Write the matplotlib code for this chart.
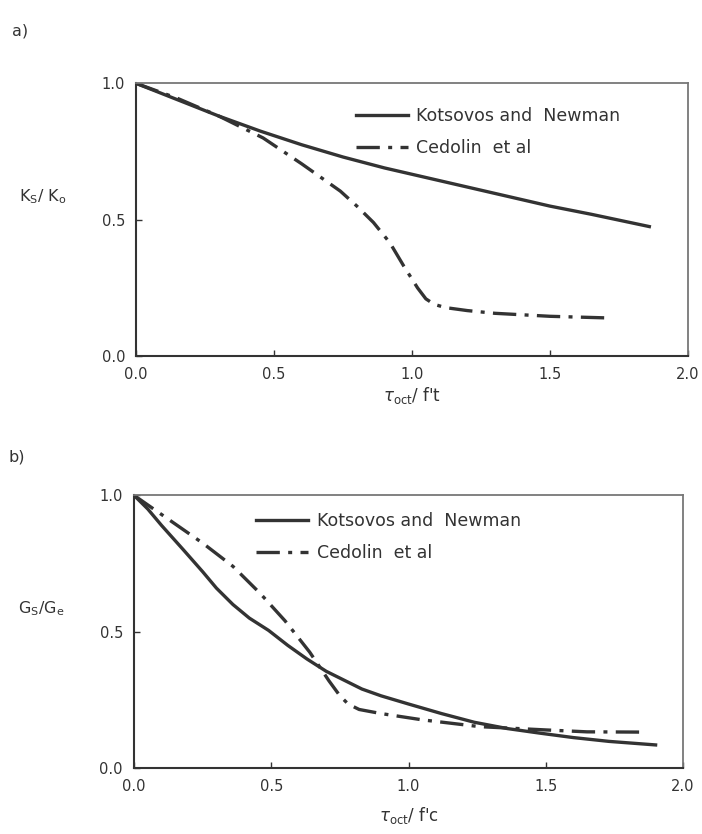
import matplotlib
matplotlib.use("Agg")
import matplotlib.pyplot as plt

# ---- data ----
ka_x = [0, 0.15, 0.3, 0.45, 0.6, 0.75, 0.9, 1.05, 1.2, 1.35, 1.5, 1.65, 1.86]
ka_y = [1.0, 0.94, 0.88, 0.825, 0.775, 0.73, 0.69, 0.655, 0.62, 0.585, 0.55, 0.52, 0.475]
ca_x = [0, 0.15, 0.3, 0.46, 0.6, 0.74, 0.8, 0.86, 0.92, 0.97, 1.02, 1.05, 1.08, 1.12, 1.2, 1.3, 1.5, 1.71]
ca_y = [1.0, 0.945, 0.88, 0.8, 0.705, 0.605, 0.55, 0.49, 0.415, 0.33, 0.25, 0.21, 0.19, 0.178, 0.167, 0.157, 0.146, 0.14]

kb_x = [0, 0.05, 0.1, 0.18, 0.25, 0.3, 0.36, 0.42, 0.49, 0.56, 0.63, 0.7, 0.77, 0.83, 0.9, 1.0, 1.12, 1.24, 1.36, 1.48, 1.6, 1.73, 1.9]
kb_y = [1.0, 0.95, 0.89, 0.8, 0.72, 0.66, 0.6, 0.55, 0.505, 0.45, 0.4, 0.355, 0.32, 0.29, 0.265, 0.235, 0.2, 0.168, 0.145, 0.128, 0.112, 0.098, 0.085]
cb_x = [0, 0.1, 0.25, 0.36, 0.46, 0.55, 0.64, 0.71, 0.75, 0.78, 0.82, 0.9, 1.05, 1.26, 1.5, 1.65, 1.86]
cb_y = [1.0, 0.93, 0.825, 0.74, 0.64, 0.54, 0.425, 0.32, 0.265, 0.235, 0.215, 0.2, 0.177, 0.152, 0.14, 0.133, 0.132]

xticks = [0.0, 0.5, 1.0, 1.5, 2.0]
xticklabels = ["0.0", "0.5", "1.0", "1.5", "2.0"]
yticks = [0.0, 0.5, 1.0]
yticklabels = ["0.0", "0.5", "1.0"]
labels = ["Kotsovos and  Newman", "Cedolin  et al"]

INK = "#333333"
plt.rcParams['font.family'] = ['DejaVu Sans']
fig = plt.figure(figsize=(7.02, 8.34), dpi=100)

dashdot = (0, (7, 2.5, 1.2, 2.5))

def style(ax):
    ax.set_xlim(0, 2.0)
    ax.set_ylim(0, 1.0)
    ax.set_xticks(xticks)
    ax.set_xticklabels(xticklabels)
    ax.set_yticks(yticks)
    ax.set_yticklabels(yticklabels)
    ax.tick_params(direction='in', length=4, width=1, colors=INK, labelsize=10.5, pad=8)
    for s in ['left', 'bottom']:
        ax.spines[s].set_color(INK)
        ax.spines[s].set_linewidth(1.5)
    for s in ['top', 'right']:
        ax.spines[s].set_color('#777777')
        ax.spines[s].set_linewidth(1.3)

leg_kw = dict(loc='upper left', frameon=False, fontsize=12.5, handlelength=3.0,
              labelspacing=0.8, handletextpad=0.5, labelcolor=INK, borderaxespad=0)

ax1 = fig.add_axes([0.194, 0.573, 0.786, 0.327])
style(ax1)
ax1.plot(ka_x, ka_y, color=INK, lw=2.4, label=labels[0])
ax1.plot(ca_x, ca_y, color=INK, lw=2.4, linestyle=dashdot, label=labels[1])
ax1.legend(bbox_to_anchor=(0.385, 0.94), **leg_kw)
ax1.set_ylabel(r"K$_{\rm S}$/ K$_{\rm o}$", rotation=0, fontsize=11.5, color=INK)
ax1.yaxis.set_label_coords(-0.17, 0.55)
ax1.set_xlabel(r"$\tau_{\rm oct}$/ f't", fontsize=12, color=INK, labelpad=2)
fig.text(0.017, 0.958, "a)", fontsize=11.5, color=INK)

ax2 = fig.add_axes([0.191, 0.079, 0.782, 0.327])
style(ax2)
ax2.plot(kb_x, kb_y, color=INK, lw=2.4, label=labels[0])
ax2.plot(cb_x, cb_y, color=INK, lw=2.4, linestyle=dashdot, label=labels[1])
ax2.legend(bbox_to_anchor=(0.21, 0.965), **leg_kw)
ax2.set_ylabel(r"G$_{\rm S}$/G$_{\rm e}$", rotation=0, fontsize=11.5, color=INK)
ax2.yaxis.set_label_coords(-0.17, 0.55)
ax2.set_xlabel(r"$\tau_{\rm oct}$/ f'c", fontsize=12, color=INK, labelpad=8)
fig.text(0.012, 0.447, "b)", fontsize=11.5, color=INK)

fig.savefig("out.png", dpi=100)
